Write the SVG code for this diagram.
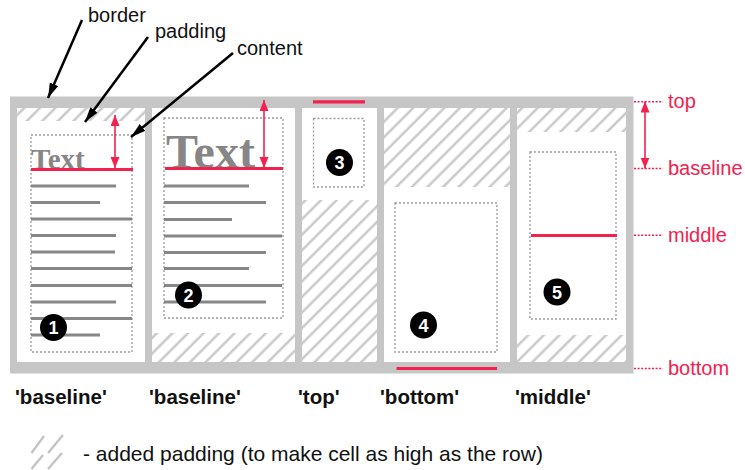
<svg xmlns="http://www.w3.org/2000/svg" width="745" height="470" viewBox="0 0 745 470">
<style>
.frame{fill:#c6c6c6}
.cell{fill:#ffffff}
.hatch{fill:url(#hatch)}
.box{fill:none;stroke:#9c9c9c;stroke-width:1.3;stroke-dasharray:2 2}
.bar{stroke:#878787;stroke-width:3}
.red{stroke:#f3214e;stroke-width:3.2}
.redarrow{stroke:#f3214e;stroke-width:1.6;fill:none;marker-start:url(#rh);marker-end:url(#rh)}
.lead{stroke:#f3214e;stroke-width:1.5;stroke-dasharray:2 1.6}
.blk{stroke:#000;stroke-width:2.5;fill:none;marker-end:url(#bh)}
.big{font-family:"Liberation Serif","Times New Roman",serif;font-weight:bold;fill:#868686}
.lbl{font-family:"Liberation Sans",Arial,sans-serif;font-size:20px;fill:#111}
.rl{font-family:"Liberation Sans",Arial,sans-serif;font-size:20px;fill:#f3214e}
.cap{font-family:"Liberation Sans",Arial,sans-serif;font-size:20.5px;font-weight:bold;fill:#111}
.leg{font-family:"Liberation Sans",Arial,sans-serif;font-size:21px;fill:#111}
.badge{fill:#000}
.num{font-family:"Liberation Sans",Arial,sans-serif;font-size:18px;font-weight:bold;fill:#fff;text-anchor:middle}
.hl{stroke:#c4c4c4;stroke-width:2.4}
</style>
<defs>
<pattern id="hatch" patternUnits="userSpaceOnUse" width="11" height="11" patternTransform="rotate(45)">
<line x1="5.5" y1="0" x2="5.5" y2="11" stroke="#c4c4c4" stroke-width="2.3"/>
</pattern>
<marker id="rh" markerUnits="userSpaceOnUse" markerWidth="12" markerHeight="10" refX="11" refY="4.5" orient="auto-start-reverse">
<path d="M0,0 L11,4.5 L0,9 z" fill="#f3214e"/>
</marker>
<marker id="bh" markerUnits="userSpaceOnUse" markerWidth="16" markerHeight="10" refX="15" refY="4.5" orient="auto">
<path d="M0,0 L15,4.5 L0,9 z" fill="#000"/>
</marker>
</defs>

<rect class="frame" x="10" y="96.5" width="623.5" height="277"/>

<g id="cell1">
<rect class="cell" x="17" y="108" width="128" height="254"/>
<rect class="hatch" x="17" y="108" width="128" height="13"/>
<rect class="box" x="31" y="135" width="101" height="217"/>
<text class="big" x="31" y="169" font-size="29">Text</text>
<line class="bar" x1="31" y1="186" x2="116" y2="186"/>
<line class="bar" x1="31" y1="202.5" x2="100" y2="202.5"/>
<line class="bar" x1="31" y1="219" x2="132" y2="219"/>
<line class="bar" x1="31" y1="235.5" x2="116" y2="235.5"/>
<line class="bar" x1="31" y1="252" x2="115" y2="252"/>
<line class="bar" x1="31" y1="268.5" x2="132" y2="268.5"/>
<line class="bar" x1="31" y1="285.5" x2="132" y2="285.5"/>
<line class="bar" x1="31" y1="302" x2="116" y2="302"/>
<line class="bar" x1="31" y1="318.5" x2="132" y2="318.5"/>
<line class="bar" x1="31" y1="335" x2="100" y2="335"/>
<line class="red" x1="31" y1="169.5" x2="133" y2="169.5"/>
<circle class="badge" cx="53.5" cy="327.5" r="13.5"/>
<text class="num" x="53.5" y="334">1</text>
</g>

<g id="cell2">
<rect class="cell" x="152" y="108" width="143" height="254"/>
<rect class="hatch" x="152" y="333" width="143" height="29"/>
<rect class="box" x="164" y="118" width="119" height="200"/>
<text class="big" x="166" y="168" font-size="48">Text</text>
<line class="bar" x1="164" y1="186" x2="249" y2="186"/>
<line class="bar" x1="164" y1="202.5" x2="266" y2="202.5"/>
<line class="bar" x1="164" y1="219.5" x2="232" y2="219.5"/>
<line class="bar" x1="164" y1="236" x2="282" y2="236"/>
<line class="bar" x1="164" y1="252.5" x2="266" y2="252.5"/>
<line class="bar" x1="164" y1="268.5" x2="249" y2="268.5"/>
<line class="bar" x1="164" y1="285.5" x2="282" y2="285.5"/>
<line class="bar" x1="164" y1="302" x2="266" y2="302"/>
<line class="red" x1="165" y1="168.5" x2="283" y2="168.5"/>
<circle class="badge" cx="188.5" cy="295" r="13.5"/>
<text class="num" x="188.5" y="301.5">2</text>
</g>

<g id="cell3">
<rect class="cell" x="302" y="108" width="75" height="254"/>
<rect class="hatch" x="302" y="200" width="75" height="162"/>
<rect class="box" x="313.5" y="118.5" width="50.5" height="68.5"/>
<line class="red" x1="313" y1="101.8" x2="365" y2="101.8"/>
<circle class="badge" cx="339.5" cy="162.5" r="13.5"/>
<text class="num" x="339.5" y="169">3</text>
</g>

<g id="cell4">
<rect class="cell" x="384" y="108" width="126" height="254"/>
<rect class="hatch" x="384" y="108" width="126" height="79"/>
<rect class="box" x="395" y="203" width="102" height="149"/>
<line class="red" x1="396.5" y1="368.5" x2="497" y2="368.5"/>
<circle class="badge" cx="423.5" cy="325" r="13.5"/>
<text class="num" x="423.5" y="331.5">4</text>
</g>

<g id="cell5">
<rect class="cell" x="517" y="108" width="109" height="254"/>
<rect class="hatch" x="517" y="108" width="109" height="24"/>
<rect class="hatch" x="517" y="335" width="109" height="27"/>
<rect class="box" x="530" y="152" width="86" height="167"/>
<line class="red" x1="531" y1="235.5" x2="617" y2="235.5"/>
<circle class="badge" cx="557" cy="292" r="13.5"/>
<text class="num" x="557" y="298.5">5</text>
</g>

<g id="labels-top">
<text class="lbl" x="88" y="21.5">border</text>
<text class="lbl" x="155" y="38">padding</text>
<text class="lbl" x="237" y="54.5">content</text>
</g>

<g id="labels-right">
<line class="lead" x1="634" y1="101.8" x2="663" y2="101.8"/>
<line class="lead" x1="634" y1="168.5" x2="663" y2="168.5"/>
<line class="lead" x1="634" y1="235.3" x2="663" y2="235.3"/>
<line class="lead" x1="634" y1="368.5" x2="663" y2="368.5"/>
<text class="rl" x="668" y="108">top</text>
<text class="rl" x="668" y="175">baseline</text>
<text class="rl" x="668" y="241.5">middle</text>
<text class="rl" x="668" y="375">bottom</text>
</g>

<g id="labels-bottom">
<text class="cap" x="15" y="404">'baseline'</text>
<text class="cap" x="149" y="404">'baseline'</text>
<text class="cap" x="298" y="404">'top'</text>
<text class="cap" x="380" y="404">'bottom'</text>
<text class="cap" x="515" y="404">'middle'</text>
</g>

<g id="legend">
<line class="hl" x1="31.5" y1="453" x2="44" y2="436"/>
<line class="hl" x1="48" y1="453" x2="63" y2="435"/>
<line class="hl" x1="31.5" y1="469" x2="43" y2="455"/>
<line class="hl" x1="48" y1="469" x2="62" y2="453"/>
<text class="leg" x="83" y="460.5">- added padding (to make cell as high as the row)</text>
</g>

<g id="connectors">
<line class="blk" x1="82" y1="20" x2="48" y2="98"/>
<line class="blk" x1="148" y1="37" x2="85" y2="122"/>
<line class="blk" x1="233" y1="53" x2="131" y2="137"/>
<line class="redarrow" x1="115" y1="115" x2="115" y2="168"/>
<line class="redarrow" x1="264" y1="100" x2="264" y2="168"/>
<line class="redarrow" x1="645" y1="101.5" x2="645" y2="168.5"/>
</g>
</svg>
